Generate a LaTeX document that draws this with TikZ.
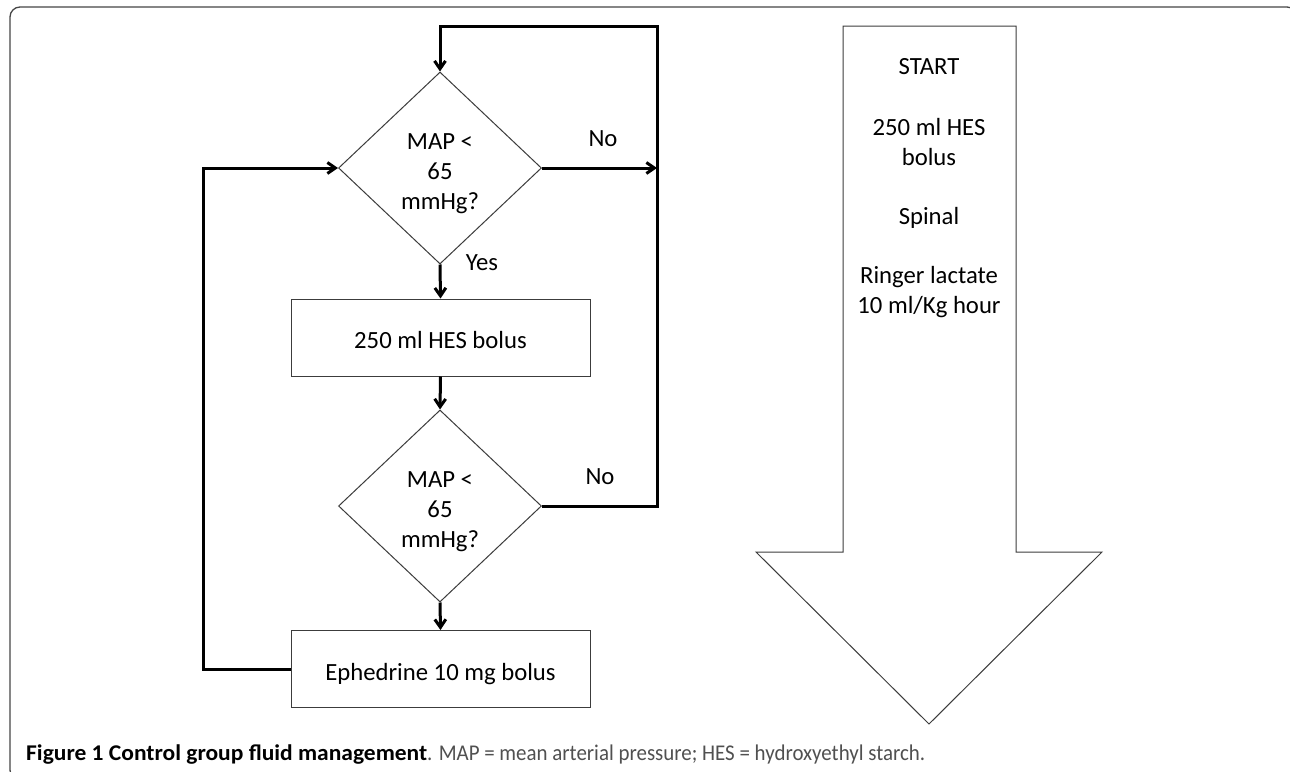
\documentclass[tikz,border=0pt]{standalone}
\usepackage{fontspec}
\setmainfont{Carlito}
\usetikzlibrary{arrows.meta,shapes.geometric}
\definecolor{outl}{RGB}{60,60,60}
\definecolor{framecol}{RGB}{70,70,70}
\definecolor{capgray}{RGB}{80,80,80}
\newsavebox\figcapbox
\newlength\figcapwd
% fit a piece of caption text to a given width, keeping its height
\newcommand\fitcappart[2]{%
  \sbox\figcapbox{#2}%
  \setlength\figcapwd{\wd\figcapbox}%
  \pgfmathsetmacro\capfac{#1/\the\figcapwd}%
  \scalebox{\capfac}[1]{\usebox\figcapbox}}
\newcommand\figcapfit{%
  \fontsize{22.5}{24}\selectfont
  \fitcappart{401}{\textbf{Figure 1 Control group fluid management}}%
  \fitcappart{498}{\color{capgray}. MAP = mean arterial pressure; HES = hydroxyethyl starch.}}
\begin{document}
\begin{tikzpicture}[x=1pt,y=-1pt,
  every node/.style={font=\fontsize{24.7}{30}\selectfont, inner sep=0pt},
  decision/.style={draw=outl, line width=1pt, shape=diamond, minimum width=203pt, minimum height=192pt, align=center},
  procbox/.style={draw=outl, line width=1pt, rectangle, minimum width=299pt, minimum height=77pt, text height=22pt, text depth=0pt},
  flowline/.style={line width=3pt, line join=miter},
  flow/.style={flowline, -{Straight Barb[length=8pt,width=11pt,line width=3pt]}},
  bigarrow/.style={draw=outl, line width=1pt, fill=white, line join=miter},
  lbl/.style={anchor=center},
  arrtxt/.style={anchor=base}
]
\useasboundingbox (0,0) rectangle (1290,771);
\clip (0,0) rectangle (1290,771);
\fill[white] (0,0) rectangle (1290,771);
% frame
\draw[framecol, line width=1.3pt, rounded corners=10pt] (10,7) rectangle (1297,780);

% flowchart nodes
\node[decision] (d1) at (440,168) {\rule{0pt}{27pt}MAP <\\65\\mmHg?};
\node[procbox] (b1) at (440.5,337.5) {250 ml HES bolus};
\node[decision] (d2) at (440,506) {\rule{0pt}{27pt}MAP <\\65\\mmHg?};
\node[procbox] (b2) at (440.5,669) {Ephedrine 10 mg bolus};

\coordinate (tl) at (440,26);
\coordinate (tr) at (657,26);
\coordinate (rj) at (657,168);
\coordinate (rb) at (657,506);
\coordinate (lb) at (203,669);
\coordinate (lt) at (203,168);

% connectors
\draw[flow] (d1.south) -- (b1.north);
\draw[flow] (b1.south) -- (d2.north);
\draw[flow] (d2.south) -- (b2.north);
\draw[flow] (d1.east) -- (rj);
\draw[flow] (d2.east) -- (rb) -- (tr) -- (tl) -- (d1.north);
\draw[flow] (b2.west) -- (lb) -- (lt) -- (d1.west);

% labels
\node[lbl] (no1) at (603,139) {No};
\node[lbl] (yes1) at (482,263) {Yes};
\node[lbl] (no2) at (600,477) {No};

% big arrow
\draw[bigarrow] (843,26) -- (1016,26) -- (1016,552) -- (1102,552) -- (929,724) -- (756,552) -- (843,552) -- cycle;
\node[arrtxt] (start) at (929,74) {START};
\node[arrtxt] (hes1) at (929,135) {250 ml HES};
\node[arrtxt] (hes2) at (929,165) {bolus};
\node[arrtxt] (spinal) at (929,224) {Spinal};
\node[arrtxt] (ring1) at (929,283) {Ringer lactate};
\node[arrtxt] (ring2) at (929,313) {10 ml/Kg hour};

% caption
\node[anchor=base west] (cap) at (26,760) {\figcapfit};
\end{tikzpicture}
\end{document}
